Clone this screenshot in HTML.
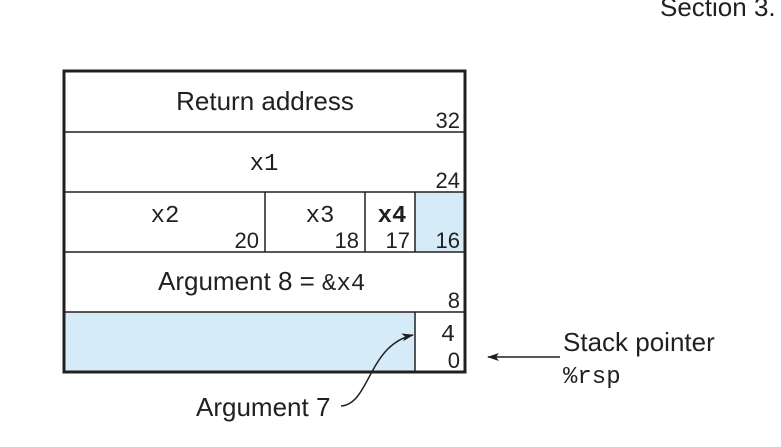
<!DOCTYPE html>
<html><head><meta charset="utf-8"><style>
body{margin:0;background:#fff;width:781px;height:447px;overflow:hidden}
svg{display:block}
.s{font-family:"Liberation Sans",sans-serif;fill:#231f20}
.m{font-family:"Liberation Mono",monospace;fill:#231f20}
</style></head><body>
<svg width="781" height="447" viewBox="0 0 781 447">
<defs><marker id="ah" markerWidth="12" markerHeight="8" refX="11" refY="4" orient="auto" markerUnits="userSpaceOnUse"><path d="M0,0 L12,4 L0,8 L3,4 Z" fill="#231f20"/></marker></defs>
<text class="s" x="660" y="16" font-size="26">Section 3.</text>
<rect x="415" y="192" width="50" height="60" fill="#d6ebf8"/>
<rect x="64" y="312" width="351" height="60" fill="#d6ebf8"/>
<g stroke="#231f20" stroke-width="1.5" fill="none">
<line x1="64" y1="132" x2="465" y2="132"/><line x1="64" y1="192" x2="465" y2="192"/>
<line x1="64" y1="252" x2="465" y2="252"/><line x1="64" y1="312" x2="465" y2="312"/>
<line x1="265" y1="192" x2="265" y2="252"/><line x1="365" y1="192" x2="365" y2="252"/>
<line x1="415" y1="192" x2="415" y2="252"/><line x1="415" y1="312" x2="415" y2="372"/>
</g>
<rect x="64" y="71" width="401" height="301" fill="none" stroke="#231f20" stroke-width="3"/>
<text class="s" x="265" y="110" font-size="26" text-anchor="middle">Return address</text>
<text class="s" x="460" y="128" font-size="22" text-anchor="end">32</text>
<text class="m" x="264" y="170" font-size="24" text-anchor="middle">x1</text>
<text class="s" x="460" y="188" font-size="22" text-anchor="end">24</text>
<text class="m" x="165" y="222" font-size="24" text-anchor="middle">x2</text>
<text class="s" x="259" y="248" font-size="22" text-anchor="end">20</text>
<text class="m" x="320" y="222" font-size="24" text-anchor="middle">x3</text>
<text class="s" x="359" y="248" font-size="22" text-anchor="end">18</text>
<text class="m" x="392" y="222" font-size="24" text-anchor="middle" font-weight="bold">x4</text>
<text class="s" x="410" y="248" font-size="22" text-anchor="end">17</text>
<text class="s" x="460" y="248" font-size="22" text-anchor="end">16</text>
<text class="s" x="158" y="290" font-size="26">Argument 8 = <tspan class="m" font-size="24">&amp;x4</tspan></text>
<text class="s" x="460" y="308" font-size="22" text-anchor="end">8</text>
<text class="m" x="448" y="341" font-size="24" text-anchor="middle">4</text>
<text class="s" x="460" y="368" font-size="22" text-anchor="end">0</text>
<path d="M341,406 C370,404 368,345 413,335" fill="none" stroke="#231f20" stroke-width="1.5" marker-end="url(#ah)"/>
<text class="s" x="196" y="416" font-size="26">Argument 7</text>
<line x1="560" y1="357" x2="488" y2="357" stroke="#231f20" stroke-width="1.5" marker-end="url(#ah)"/>
<text class="s" x="563" y="351" font-size="26">Stack pointer</text>
<text class="m" x="563" y="383" font-size="24">%rsp</text>
</svg>
</body></html>
